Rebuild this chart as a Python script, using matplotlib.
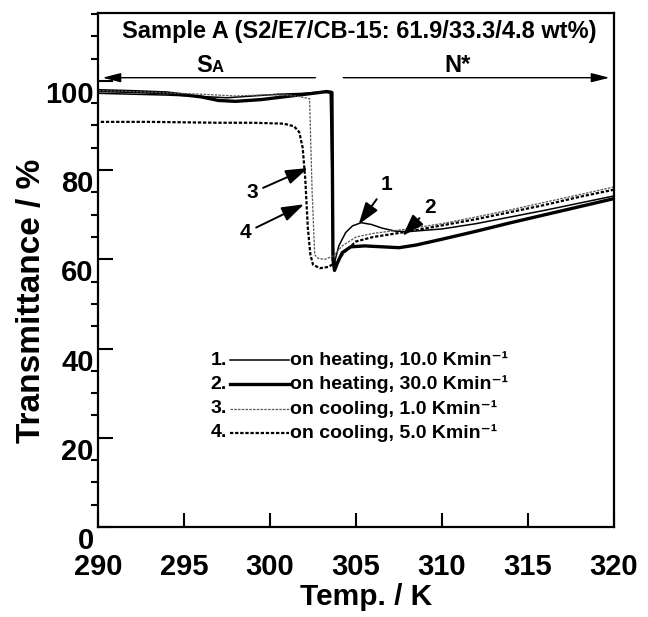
import matplotlib
matplotlib.use("Agg")
import matplotlib.pyplot as plt
import matplotlib.transforms as mtransforms
from matplotlib.ticker import MultipleLocator

plt.rcParams['font.family'] = ['Liberation Sans', 'DejaVu Sans']
plt.rcParams['font.weight'] = 'bold'

# curve 1: on heating, 10.0 K/min
t_heat10 = [290, 292, 294, 296, 297.5, 299, 300.5, 302, 303.0, 303.5, 303.62, 303.7, 303.8,
            304.0, 304.4, 304.8, 305.3, 305.9, 306.5, 307.3, 308, 310, 312, 314, 316, 318, 320]
tr_heat10 = [97.2, 97.0, 96.8, 96.5, 96.2, 96.6, 97.0, 97.2, 97.5, 97.3, 75, 58.5, 60,
             63, 66, 67.5, 68.2, 67.8, 67, 66.3, 66.2, 66.8, 68, 69.5, 71.0, 72.6, 74.2]

# curve 2: on heating, 30.0 K/min
t_heat30 = [290, 292, 294, 296, 297, 298, 299.5, 301, 302.5, 303.3, 303.6, 303.66, 303.75,
            303.9, 304.2, 304.7, 305.5, 306.5, 307.5, 308.5, 310, 312, 314, 316, 318, 320]
tr_heat30 = [97.8, 97.6, 97.3, 96.4, 95.6, 95.4, 95.8, 96.5, 97.2, 97.6, 97.4, 60, 57.5,
             59, 61.5, 62.8, 63.0, 62.8, 62.6, 63.2, 64.5, 66.3, 68.2, 70.0, 71.8, 73.6]

# curve 3: on cooling, 1.0 K/min
t_cool1 = [320, 318, 316, 314, 312, 310, 308, 306, 305, 304.2, 303.7, 303.2, 302.8, 302.6,
           302.45, 302.3, 301.5, 300, 298, 296, 294, 292, 290]
tr_cool1 = [76.2, 74.5, 72.8, 71.1, 69.5, 68.0, 66.8, 65.8, 65.0, 63.0, 60.8, 60.0, 60.2, 61,
            75, 96.0, 96.6, 96.9, 96.6, 97.0, 97.3, 97.6, 97.8]

# curve 4: on cooling, 5.0 K/min
t_cool5 = [320, 318, 316, 314, 312, 310, 308, 306, 305, 304.3, 303.9, 303.4, 302.9, 302.5,
           302.35, 302.2, 302.05, 301.9, 301.7, 301.4, 300.8, 299, 297, 295, 293, 290]
tr_cool5 = [75.6, 74.0, 72.2, 70.6, 69.0, 67.6, 66.2, 65.0, 64.0, 61.5, 59.5, 58.3, 58.0, 58.8,
            61, 67, 78, 85, 88.5, 89.8, 90.4, 90.6, 90.6, 90.7, 90.8, 90.8]

legend_labels = ["on heating, 10.0 Kmin\u207b\u00b9", "on heating, 30.0 Kmin\u207b\u00b9",
                 "on cooling, 1.0 Kmin\u207b\u00b9", "on cooling, 5.0 Kmin\u207b\u00b9"]

fig = plt.figure(figsize=(6.48, 6.17), dpi=100)
ax = fig.add_axes([98 / 648, 1 - 527 / 617, 516 / 648, 514 / 617])

styles = [dict(color='k', lw=1.1, ls='-'),
          dict(color='k', lw=2.4, ls='-'),
          dict(color='0.35', lw=0.9, ls=(0, (2, 1))),
          dict(color='k', lw=1.6, ls=(0, (1.5, 0.8)))]

ax.plot(t_heat10, tr_heat10, **styles[0])
ax.plot(t_heat30, tr_heat30, **styles[1])
ax.plot(t_cool1, tr_cool1, **styles[2])
ax.plot(t_cool5, tr_cool5, **styles[3])

ax.set_xlim(290, 320)
ax.set_ylim(0, 115.2)
ax.xaxis.set_major_locator(MultipleLocator(5))
ax.yaxis.set_minor_locator(MultipleLocator(5))
ax.set_yticks([0, 20, 40, 60, 80, 100])
ax.tick_params(axis='both', direction='in', labelsize=21, width=1.5)
ax.tick_params(axis='y', which='major', length=11, pad=3)
ax.tick_params(axis='y', which='minor', length=5, width=1.5)
ax.tick_params(axis='x', which='major', length=10, pad=19)
for s in ax.spines.values():
    s.set_linewidth(1.6)

shift = mtransforms.ScaledTranslation(0, -0.11, fig.dpi_scale_trans)
for lab in ax.get_yticklabels():
    lab.set_transform(lab.get_transform() + shift)

ax.set_xlabel("Temp. / K", fontsize=21.5, fontweight='bold')
ax.xaxis.set_label_coords(0.52, -0.108)
ax.set_ylabel("Transmittance / %", fontsize=24, fontweight='bold')
ax.yaxis.set_label_coords(-0.098, 0.44)

ax.text(305.2, 111.0, "Sample A (S2/E7/CB-15: 61.9/33.3/4.8 wt%)", fontsize=17,
        ha='center', va='center', fontweight='bold')

# phase arrows
ax.annotate('', xy=(290.1, 100.7), xytext=(302.8, 100.7),
            arrowprops=dict(arrowstyle='-|>,head_length=1.1,head_width=0.28', lw=1.0, color='k'))
ax.annotate('', xy=(319.9, 100.7), xytext=(304.1, 100.7),
            arrowprops=dict(arrowstyle='-|>,head_length=1.1,head_width=0.28', lw=1.0, color='k'))
ax.text(296.6, 102.0, "S", fontsize=17, ha='right', va='baseline', fontweight='bold')
ax.text(296.6, 102.0, "A", fontsize=12, ha='left', va='baseline', fontweight='bold')
ax.text(310.9, 102.0, "N*", fontsize=17, ha='center', va='baseline', fontweight='bold')

# numbered arrows
arrow_kw = dict(arrowstyle='-|>,head_length=0.9,head_width=0.3', lw=1.4, color='k')
ax.annotate("1", xy=(305.06, 67.3), xytext=(306.8, 76.7), fontsize=15, ha='center', va='center',
            fontweight='bold', arrowprops=arrow_kw)
ax.annotate("2", xy=(307.6, 64.8), xytext=(309.3, 71.7), fontsize=15, ha='center', va='center',
            fontweight='bold', arrowprops=arrow_kw)
ax.annotate("3", xy=(302.35, 80.7), xytext=(298.95, 74.9), fontsize=15, ha='center', va='center',
            fontweight='bold', arrowprops=arrow_kw)
ax.annotate("4", xy=(302.12, 72.6), xytext=(298.55, 65.9), fontsize=15, ha='center', va='center',
            fontweight='bold', arrowprops=arrow_kw)

# legend rows
rows = [37.4, 32.0, 26.5, 21.1]
for i, (y, lab) in enumerate(zip(rows, legend_labels)):
    ax.text(297.5, y, f"{i + 1}.", fontsize=14, ha='right', va='center', fontweight='bold')
    ax.plot([297.65, 301.1], [y, y], **styles[i])
    ax.text(301.15, y, lab, fontsize=14, ha='left', va='center', fontweight='bold')

fig.savefig("out.png", dpi=100)
